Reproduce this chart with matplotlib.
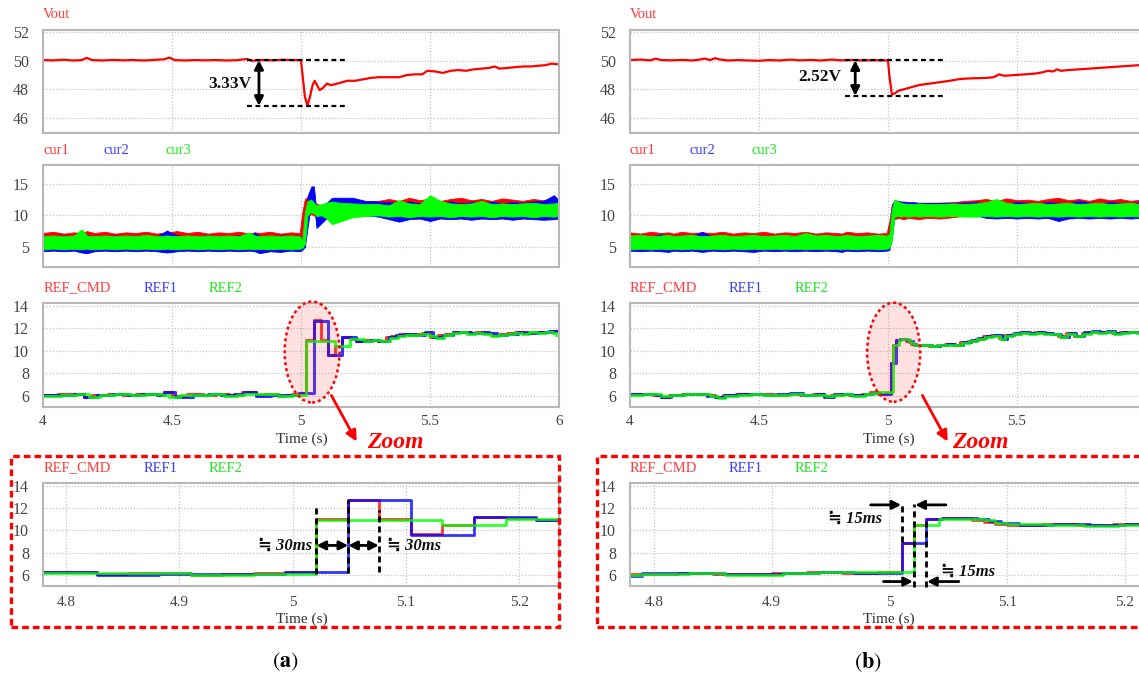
import matplotlib
matplotlib.use('Agg')
import matplotlib.pyplot as plt
from matplotlib.patches import Ellipse, Rectangle, FancyArrowPatch

W, H = 1139, 680
plt.rcParams['font.family'] = ['Liberation Serif', 'DejaVu Serif', 'DejaVu Sans']
plt.rcParams['mathtext.fontset'] = 'stix'

# ---------------- data ----------------
VOUT_A = [(4.00, 50.05), (4.04, 50.03), (4.08, 50.07), (4.12, 50.02), (4.15, 50.05), (4.17, 50.20),
          (4.19, 50.05), (4.23, 50.02), (4.27, 50.06), (4.31, 50.03), (4.35, 50.05), (4.39, 50.02),
          (4.43, 50.06), (4.47, 50.10), (4.49, 50.22), (4.51, 50.05), (4.55, 50.02), (4.59, 50.05),
          (4.63, 50.03), (4.67, 50.05), (4.71, 50.02), (4.75, 50.04), (4.79, 50.12), (4.81, 50.00),
          (4.85, 50.05), (4.89, 50.03), (4.93, 50.07), (4.97, 50.04), (5.00, 50.05), (5.003, 49.50),
          (5.015, 47.50), (5.025, 46.85), (5.035, 47.50), (5.045, 48.30), (5.053, 48.60), (5.062, 48.30),
          (5.072, 47.95), (5.085, 48.10), (5.10, 48.40), (5.115, 48.30), (5.13, 48.35), (5.15, 48.45),
          (5.18, 48.60), (5.21, 48.60), (5.24, 48.70), (5.27, 48.80), (5.30, 48.85), (5.34, 48.85),
          (5.38, 48.85), (5.41, 49.00), (5.44, 49.05), (5.47, 49.05), (5.49, 49.30), (5.52, 49.25),
          (5.55, 49.15), (5.58, 49.30), (5.61, 49.35), (5.64, 49.30), (5.67, 49.40), (5.70, 49.45),
          (5.73, 49.50), (5.75, 49.60), (5.77, 49.45), (5.80, 49.50), (5.83, 49.55), (5.86, 49.60),
          (5.89, 49.60), (5.92, 49.65), (5.95, 49.70), (5.97, 49.80), (6.00, 49.75)]

VOUT_B = [(4.00, 50.05), (4.04, 50.08), (4.08, 50.03), (4.10, 50.15), (4.12, 50.05), (4.16, 50.03),
          (4.20, 50.06), (4.24, 50.02), (4.27, 50.08), (4.29, 50.15), (4.31, 50.05), (4.33, 50.18),
          (4.35, 50.08), (4.38, 50.02), (4.42, 50.05), (4.46, 50.02), (4.50, 50.00), (4.54, 50.05),
          (4.58, 50.02), (4.62, 50.08), (4.66, 50.03), (4.70, 50.06), (4.74, 50.02), (4.78, 50.08),
          (4.82, 50.03), (4.86, 50.05), (4.90, 50.02), (4.94, 50.04), (4.98, 50.02), (5.00, 50.02),
          (5.005, 49.00), (5.015, 47.65), (5.025, 47.70), (5.04, 47.90), (5.06, 48.00), (5.09, 48.15),
          (5.12, 48.30), (5.16, 48.40), (5.20, 48.50), (5.24, 48.60), (5.27, 48.70), (5.30, 48.75),
          (5.34, 48.78), (5.38, 48.80), (5.41, 48.85), (5.43, 49.05), (5.45, 48.95), (5.49, 49.00),
          (5.53, 49.05), (5.57, 49.10), (5.60, 49.20), (5.62, 49.30), (5.64, 49.25), (5.655, 49.40),
          (5.67, 49.30), (5.70, 49.35), (5.74, 49.40), (5.78, 49.45), (5.82, 49.50), (5.86, 49.55),
          (5.90, 49.60), (5.94, 49.65), (5.98, 49.70), (6.00, 49.70)]

T_CUR = [4.00, 4.04, 4.08, 4.12, 4.15, 4.17, 4.20, 4.24, 4.28, 4.32, 4.36, 4.40, 4.44, 4.48,
         4.52, 4.56, 4.60, 4.64, 4.68, 4.72, 4.76, 4.80, 4.82, 4.84, 4.88, 4.92, 4.96, 4.995,
         5.005, 5.015, 5.025, 5.04, 5.05, 5.06, 5.08, 5.10, 5.12, 5.15, 5.20, 5.25, 5.30,
         5.34, 5.38, 5.42, 5.46, 5.50, 5.54, 5.58, 5.62, 5.66, 5.70, 5.74, 5.78, 5.82, 5.86,
         5.90, 5.94, 5.98, 6.00]

CUR1_HI_A = [7.2, 7.4, 7.1, 7.3, 7.2, 7.5, 7.2, 7.4, 7.1, 7.3, 7.2, 7.4, 7.1, 7.3, 7.5, 7.2, 7.4, 7.1, 7.3, 7.2,
             7.4, 7.1, 7.3, 7.2, 7.4, 7.1, 7.3, 7.2,
             10.5, 12.6, 12.9, 12.0, 11.6, 11.9, 11.5, 11.9, 12.2, 12.0, 12.1, 12.2, 12.3,
             12.6, 12.3, 12.8, 12.4, 12.7, 12.3, 12.6, 12.8, 12.4, 12.6, 12.3, 12.7, 12.5, 12.3, 12.6, 12.4, 12.8, 12.5]
CUR1_LO_A = [5.3, 5.2, 5.4, 5.3, 5.2, 5.3, 5.4, 5.2, 5.3, 5.3, 5.2, 5.4, 5.3, 5.2, 5.3, 5.4, 5.2, 5.3, 5.3, 5.2,
             5.4, 5.3, 5.2, 5.3, 5.4, 5.2, 5.3, 5.3,
             5.8, 9.6, 10.0, 10.2, 10.0, 9.8, 9.7, 9.8, 10.0, 10.1, 10.2, 10.2, 10.1,
             10.0, 10.1, 9.9, 10.0, 10.1, 9.9, 10.0, 10.1, 9.9, 10.0, 10.1, 9.9, 10.0, 10.1, 9.9, 10.0, 10.1, 10.0]
CUR2_HI_A = [6.7, 6.6, 6.8, 6.6, 6.7, 6.9, 6.6, 6.7, 6.8, 6.6, 6.7, 6.8, 6.6, 7.6, 6.8, 6.6, 6.7, 6.8, 6.6, 6.7,
             6.8, 6.6, 7.3, 6.7, 6.6, 6.8, 6.7, 6.8,
             5.5, 6.5, 13.0, 14.6, 14.6, 10.5, 11.5, 12.0, 12.8, 12.8, 12.8, 12.3, 12.2,
             12.1, 12.0, 12.2, 11.9, 12.1, 12.0, 12.2, 11.9, 12.1, 12.0, 12.2, 11.9, 12.1, 12.0, 12.2, 12.3, 13.2, 12.4]
CUR2_LO_A = [4.3, 4.4, 4.3, 4.4, 4.1, 4.0, 4.3, 4.4, 4.3, 4.4, 4.3, 4.4, 4.3, 4.1, 4.3, 4.4, 4.3, 4.4, 4.3, 4.4,
             4.3, 4.4, 4.3, 4.0, 4.3, 4.2, 4.4, 4.3,
             4.5, 5.0, 8.0, 12.0, 12.0, 8.0, 8.8, 9.6, 10.2, 10.5, 10.3, 10.0, 9.8,
             9.4, 9.0, 9.4, 9.5, 9.1, 9.5, 9.4, 9.5, 9.3, 9.5, 9.4, 9.5, 9.3, 9.5, 9.4, 9.3, 9.4, 9.5]
CUR3_HI_A = [6.7, 6.8, 6.7, 6.8, 7.8, 6.8, 6.7, 6.8, 6.7, 6.8, 6.7, 6.9, 6.7, 6.8, 6.7, 6.8, 6.7, 6.8, 6.7, 6.8,
             6.7, 7.3, 6.8, 6.7, 6.8, 6.7, 6.8, 6.7,
             6.0, 10.5, 12.3, 12.5, 12.0, 11.6, 11.8, 12.0, 12.2, 12.0, 11.9, 11.8, 11.8,
             11.6, 12.4, 11.9, 11.8, 13.2, 12.3, 11.9, 11.8, 11.9, 12.3, 11.8, 11.9, 11.8, 11.9, 12.0, 11.8, 11.9, 12.0]
CUR3_LO_A = [4.6, 4.7, 4.6, 4.7, 4.6, 4.7, 4.6, 4.7, 4.6, 4.7, 4.6, 4.7, 4.6, 4.7, 4.6, 4.7, 4.6, 4.7, 4.6, 4.7,
             4.6, 4.7, 4.6, 4.7, 4.6, 4.7, 4.6, 4.7,
             4.8, 5.5, 10.0, 10.5, 10.3, 9.9, 10.0, 9.5, 8.6, 9.0, 9.7, 9.9, 10.0,
             9.8, 9.9, 9.7, 9.9, 9.8, 9.9, 9.7, 9.9, 9.8, 9.9, 9.7, 9.9, 9.8, 9.9, 9.7, 9.9, 9.8, 9.9]

CUR1_HI_B = [7.3, 7.1, 7.4, 7.2, 7.3, 7.1, 7.4, 7.2, 7.3, 7.2, 7.4, 7.1, 7.3, 7.2, 7.4, 7.1, 7.3, 7.2, 7.4, 7.1,
             7.3, 7.2, 7.1, 7.4, 7.2, 7.3, 7.1, 7.2,
             9.0, 11.8, 12.2, 12.0, 11.8, 11.9, 11.8, 11.9, 12.0, 11.9, 12.0, 12.1, 12.3,
             12.4, 12.6, 12.3, 12.7, 12.4, 12.5, 12.3, 12.6, 12.8, 12.4, 12.6, 12.3, 12.7, 12.4, 12.6, 12.3, 12.5, 12.4]
CUR1_LO_B = [5.3, 5.2, 5.4, 5.3, 5.2, 5.3, 5.4, 5.2, 5.3, 5.3, 5.2, 5.4, 5.3, 5.2, 5.3, 5.4, 5.2, 5.3, 5.3, 5.2,
             5.4, 5.3, 5.2, 5.3, 5.4, 5.2, 5.3, 5.3,
             5.8, 9.5, 9.4, 9.6, 9.5, 9.4, 9.6, 9.5, 9.4, 9.6, 9.5, 9.7, 10.0,
             10.1, 10.0, 10.2, 10.1, 10.0, 10.2, 10.1, 10.0, 10.2, 10.1, 10.0, 10.2, 10.1, 10.0, 10.2, 10.1, 10.0, 10.1]
CUR2_HI_B = [6.7, 6.8, 6.6, 7.0, 6.7, 6.6, 6.8, 6.7, 7.4, 6.6, 6.8, 6.6, 6.7, 6.8, 6.6, 6.7, 6.8, 6.6, 6.7, 6.8,
             6.6, 6.7, 6.8, 6.6, 6.7, 6.8, 6.6, 6.8,
             7.0, 11.5, 12.4, 12.3, 12.2, 12.2, 12.1, 12.1, 12.0, 12.0, 12.0, 12.0, 12.0,
             12.1, 11.9, 12.0, 11.9, 12.1, 12.0, 11.9, 12.1, 12.0, 11.9, 12.3, 12.0, 11.9, 12.1, 12.0, 11.9, 12.1, 12.0]
CUR2_LO_B = [4.4, 4.3, 4.4, 4.3, 4.2, 4.4, 4.3, 4.4, 4.2, 4.4, 4.3, 4.4, 4.3, 4.2, 4.4, 4.3, 4.4, 4.3, 4.4, 4.3,
             4.4, 4.3, 4.2, 4.4, 4.3, 4.4, 4.3, 4.4,
             4.5, 6.5, 9.8, 10.0, 10.1, 10.0, 10.1, 10.2, 10.1, 10.2, 10.2, 10.1, 10.2,
             10.0, 9.6, 9.5, 9.6, 9.5, 9.6, 9.5, 9.6, 9.1, 9.5, 9.6, 9.5, 9.6, 9.5, 9.6, 9.5, 9.6, 9.5]
CUR3_HI_B = [6.8, 6.9, 6.7, 6.8, 6.9, 6.7, 6.8, 6.9, 6.7, 6.8, 6.9, 6.7, 6.8, 6.9, 6.7, 6.8, 6.9, 6.7, 7.2, 6.8,
             6.9, 6.7, 6.8, 6.9, 6.7, 6.8, 6.9, 6.8,
             7.0, 11.0, 12.5, 12.2, 12.0, 11.9, 11.8, 11.8, 11.9, 11.8, 11.8, 11.9, 11.8,
             11.9, 12.1, 12.6, 12.0, 11.8, 11.9, 12.0, 11.8, 11.9, 12.0, 11.8, 11.9, 12.0, 11.8, 11.9, 12.0, 11.8, 11.9]
CUR3_LO_B = [4.6, 4.7, 4.6, 4.7, 4.6, 4.7, 4.6, 4.7, 4.6, 4.7, 4.6, 4.7, 4.6, 4.7, 4.6, 4.7, 4.6, 4.7, 4.6, 4.7,
             4.6, 4.7, 4.6, 4.7, 4.6, 4.7, 4.6, 4.7,
             4.8, 6.0, 9.8, 9.9, 9.8, 9.9, 9.8, 9.9, 9.8, 9.9, 9.8, 9.9, 9.8,
             9.8, 9.9, 9.8, 9.9, 9.8, 9.9, 9.8, 9.9, 9.8, 9.9, 9.8, 9.9, 9.8, 9.9, 9.8, 9.9, 9.8, 9.9]

REF_CMD_A = [(4.00, 6.10), (4.06, 6.15), (4.11, 6.20), (4.16, 5.90), (4.19, 6.10), (4.25, 6.20), (4.31, 6.10),
             (4.36, 6.20), (4.42, 6.15), (4.47, 6.30), (4.50, 5.95), (4.56, 6.15), (4.62, 6.10), (4.67, 6.20),
             (4.72, 6.05), (4.77, 6.30), (4.827, 6.10), (4.855, 6.15), (4.910, 6.00), (4.938, 6.05),
             (4.966, 6.15), (4.993, 6.25), (5.021, 11.00), (5.049, 12.75), (5.076, 11.00), (5.104, 9.65),
             (5.132, 10.45), (5.160, 11.25), (5.188, 11.10), (5.215, 10.90), (5.243, 10.95), (5.270, 11.00),
             (5.300, 10.90), (5.330, 11.20), (5.350, 11.35), (5.380, 11.50), (5.410, 11.45), (5.440, 11.55),
             (5.470, 11.60), (5.500, 11.25), (5.530, 11.40), (5.560, 11.55), (5.590, 11.70), (5.620, 11.65),
             (5.650, 11.60), (5.680, 11.65), (5.710, 11.60), (5.740, 11.40), (5.770, 11.50), (5.800, 11.60),
             (5.830, 11.65), (5.860, 11.60), (5.890, 11.70), (5.920, 11.65), (5.950, 11.70), (5.980, 11.75),
             (6.00, 11.75)]
REF1_A = [(4.00, 6.05), (4.06, 6.10), (4.12, 6.20), (4.16, 5.85), (4.21, 6.10), (4.27, 6.15), (4.33, 6.10),
          (4.38, 6.20), (4.44, 6.10), (4.47, 6.35), (4.51, 5.90), (4.58, 6.10), (4.64, 6.20), (4.69, 6.10),
          (4.74, 6.15), (4.78, 6.30), (4.827, 6.00), (4.882, 6.10), (4.938, 6.05), (4.993, 6.25),
          (5.049, 12.70), (5.104, 9.60), (5.160, 11.25), (5.215, 10.90), (5.270, 11.00), (5.300, 10.85),
          (5.340, 11.20), (5.370, 11.40), (5.400, 11.50), (5.440, 11.45), (5.480, 11.65), (5.510, 11.20),
          (5.550, 11.45), (5.590, 11.65), (5.630, 11.70), (5.660, 11.60), (5.700, 11.65), (5.730, 11.60),
          (5.760, 11.40), (5.800, 11.55), (5.840, 11.65), (5.880, 11.60), (5.920, 11.70), (5.960, 11.75),
          (5.990, 11.80), (6.00, 11.80)]
REF2_A = [(4.00, 6.00), (4.07, 6.10), (4.13, 6.15), (4.18, 5.90), (4.22, 6.05), (4.28, 6.15), (4.34, 6.05),
          (4.40, 6.15), (4.46, 6.10), (4.49, 5.85), (4.53, 6.05), (4.59, 6.10), (4.65, 6.15), (4.70, 6.00),
          (4.75, 6.10), (4.78, 6.20), (4.827, 6.15), (4.910, 5.95), (4.966, 6.10), (5.021, 10.90),
          (5.132, 10.45), (5.188, 11.05), (5.243, 10.90), (5.280, 10.95), (5.310, 10.85), (5.345, 11.15),
          (5.375, 11.35), (5.405, 11.45), (5.435, 11.40), (5.465, 11.55), (5.495, 11.30), (5.525, 11.15),
          (5.555, 11.45), (5.585, 11.60), (5.615, 11.65), (5.645, 11.55), (5.675, 11.60), (5.705, 11.55),
          (5.735, 11.35), (5.765, 11.45), (5.795, 11.55), (5.825, 11.60), (5.855, 11.55), (5.885, 11.65),
          (5.915, 11.60), (5.945, 11.65), (5.975, 11.60), (5.990, 11.40), (6.00, 11.40)]

REF_CMD_B = [(4.00, 6.15), (4.05, 6.20), (4.09, 6.10), (4.12, 5.90), (4.15, 6.10), (4.20, 6.15), (4.25, 6.20),
             (4.30, 6.05), (4.33, 5.85), (4.36, 6.05), (4.41, 6.15), (4.46, 6.20), (4.51, 6.15), (4.56, 6.10),
             (4.61, 6.20), (4.66, 6.10), (4.71, 6.15), (4.75, 5.95), (4.78, 6.10), (4.82, 6.20), (4.85, 6.05),
             (4.90, 6.20), (4.93, 6.30), (4.96, 6.20), (4.99, 6.25), (5.011, 8.90), (5.021, 10.50),
             (5.031, 11.00), (5.045, 11.10), (5.070, 10.90), (5.080, 10.75), (5.090, 10.60), (5.100, 10.50),
             (5.130, 10.55), (5.160, 10.45), (5.190, 10.55), (5.220, 10.60), (5.250, 10.55), (5.280, 10.75),
             (5.310, 10.90), (5.340, 11.10), (5.370, 11.30), (5.400, 11.40), (5.430, 11.15), (5.450, 11.40),
             (5.480, 11.55), (5.510, 11.65), (5.540, 11.60), (5.570, 11.65), (5.600, 11.60), (5.630, 11.55),
             (5.660, 11.30), (5.690, 11.60), (5.720, 11.35), (5.750, 11.60), (5.780, 11.70), (5.810, 11.65),
             (5.840, 11.70), (5.870, 11.60), (5.900, 11.65), (5.930, 11.70), (5.960, 11.65), (6.00, 11.65)]
REF1_B = [(4.00, 6.20), (4.05, 6.15), (4.10, 6.05), (4.12, 5.85), (4.16, 6.10), (4.21, 6.20), (4.26, 6.15),
          (4.30, 6.00), (4.33, 5.85), (4.37, 6.10), (4.42, 6.20), (4.47, 6.15), (4.52, 6.10), (4.57, 6.15),
          (4.62, 6.25), (4.67, 6.10), (4.72, 6.15), (4.75, 5.90), (4.79, 6.15), (4.83, 6.20), (4.86, 6.05),
          (4.91, 6.15), (4.94, 6.25), (4.97, 6.15), (4.99, 6.20), (5.011, 8.90), (5.031, 11.00),
          (5.045, 11.10), (5.075, 11.00), (5.085, 10.85), (5.095, 10.65), (5.110, 10.50), (5.140, 10.55),
          (5.170, 10.45), (5.200, 10.55), (5.230, 10.60), (5.260, 10.55), (5.290, 10.80), (5.320, 10.95),
          (5.350, 11.15), (5.380, 11.35), (5.410, 11.40), (5.440, 11.10), (5.460, 11.45), (5.490, 11.60),
          (5.520, 11.65), (5.550, 11.60), (5.580, 11.70), (5.610, 11.60), (5.640, 11.50), (5.670, 11.25),
          (5.700, 11.60), (5.730, 11.30), (5.760, 11.65), (5.790, 11.75), (5.820, 11.65), (5.850, 11.75),
          (5.880, 11.60), (5.910, 11.70), (5.940, 11.65), (5.970, 11.70), (6.00, 11.65)]
REF2_B = [(4.00, 6.10), (4.05, 6.20), (4.09, 6.15), (4.12, 5.95), (4.16, 6.05), (4.21, 6.15), (4.26, 6.20),
          (4.31, 6.00), (4.34, 5.80), (4.37, 6.00), (4.42, 6.10), (4.47, 6.20), (4.52, 6.10), (4.57, 6.05),
          (4.62, 6.15), (4.67, 6.05), (4.72, 6.10), (4.76, 5.95), (4.79, 6.05), (4.83, 6.15), (4.86, 6.00),
          (4.91, 6.15), (4.94, 6.25), (4.96, 6.30), (5.021, 10.50), (5.042, 11.00), (5.050, 11.05),
          (5.080, 10.90), (5.090, 10.70), (5.100, 10.55), (5.135, 10.50), (5.165, 10.40), (5.195, 10.50),
          (5.225, 10.55), (5.255, 10.50), (5.285, 10.70), (5.315, 10.85), (5.345, 11.05), (5.375, 11.25),
          (5.405, 11.35), (5.435, 11.10), (5.455, 11.35), (5.485, 11.50), (5.515, 11.60), (5.545, 11.55),
          (5.575, 11.60), (5.605, 11.55), (5.635, 11.50), (5.665, 11.25), (5.695, 11.55), (5.725, 11.30),
          (5.755, 11.55), (5.785, 11.65), (5.815, 11.60), (5.845, 11.65), (5.875, 11.55), (5.905, 11.60),
          (5.935, 11.65), (5.965, 11.60), (6.00, 11.60)]

X_TICKS_FULL = [4, 4.5, 5, 5.5, 6]
X_LABELS_FULL = ['4', '4.5', '5', '5.5', '6']
X_TICKS_ZOOM = [4.8, 4.9, 5.0, 5.1, 5.2]
X_LABELS_ZOOM = ['4.8', '4.9', '5', '5.1', '5.2']
Y_TICKS_VOUT = [46, 48, 50, 52]
Y_TICKS_CUR = [5, 10, 15]
Y_TICKS_REF = [6, 8, 10, 12, 14]

RED, BLUE, GREEN = '#ff0000', '#0000ff', '#00ff00'
TXT_RED, TXT_BLUE, TXT_GREEN = '#ff3b3b', '#3b3bff', '#1ee81e'

# ---------------- helpers ----------------
fig = plt.figure(figsize=(W / 100, H / 100), dpi=100)


def box(x0, y0, x1, y1):
    return [x0 / W, 1 - y1 / H, (x1 - x0) / W, (y1 - y0) / H]


def fp(x, y):
    return (x / W, 1 - y / H)


def style(ax, xlim, ylim, yticks, xticks, xlabels=None, xpad=6):
    ax.set_xlim(xlim)
    ax.set_ylim(ylim)
    ax.set_yticks(yticks)
    ax.set_xticks(xticks)
    ax.grid(True, ls=(0, (1, 1.5)), color='#c4c4c4', lw=0.9)
    ax.set_axisbelow(True)
    for s in ax.spines.values():
        s.set_color('#b8b8b8')
        s.set_linewidth(1.5)
    ax.tick_params(axis='y', length=0, labelsize=11.5, labelcolor='#444444', pad=10)
    ax.tick_params(axis='x', length=0, labelsize=11, labelcolor='#444444', pad=xpad)
    if xlabels is None:
        ax.tick_params(axis='x', labelbottom=False)
    else:
        ax.set_xticklabels(xlabels)


def unzip(pairs):
    return [p[0] for p in pairs], [p[1] for p in pairs]


def label(x, y, s, c, size=10.5):
    fig.text(*fp(x, y), s, color=c, fontsize=size, ha='left', va='center')


ANN_FONT = ['Liberation Serif', 'DejaVu Sans']

columns = [
    dict(x0=43, x1=559, vout=VOUT_A, cur=(CUR1_HI_A, CUR1_LO_A, CUR2_HI_A, CUR2_LO_A, CUR3_HI_A, CUR3_LO_A),
         refs=(REF_CMD_A, REF1_A, REF2_A), zxlim=(4.7797, 5.235), tag='a', cap_x=285,
         leg=(44, 104, 165), leg2=(44, 144, 209), drop=(50.05, 46.85, 4.79, 5.18, 4.837, '3.33V', 4.725, 48.4),
         ell=(5.043, 9.9, 0.213, 9.0), arrow=((330, 393), (358, 444)), zoom_x=367, time_x=302,
         box=(11, 456, 559, 627)),
    dict(x0=630, x1=1146, vout=VOUT_B, cur=(CUR1_HI_B, CUR1_LO_B, CUR2_HI_B, CUR2_LO_B, CUR3_HI_B, CUR3_LO_B),
         refs=(REF_CMD_B, REF1_B, REF2_B), zxlim=(4.7796, 5.218), tag='b', cap_x=868,
         leg=(630, 690, 751), leg2=(630, 729, 795), drop=(50.03, 47.55, 4.835, 5.215, 4.873, '2.52V', 4.735, 48.85),
         ell=(5.022, 9.88, 0.206, 8.84), arrow=((921, 393), (949, 444)), zoom_x=952, time_x=889,
         box=(597, 456, 1150, 627)),
]

for col in columns:
    x0, x1 = col['x0'], col['x1']

    # ---- Vout ----
    ax = fig.add_axes(box(x0, 30, x1, 133))
    t, v = unzip(col['vout'])
    ax.plot(t, v, color=RED, lw=1.6)
    style(ax, (4, 6), (44.95, 52.15), Y_TICKS_VOUT, X_TICKS_FULL)
    ytop, ybot, xa, xb, xarr, txt, tx, ty = col['drop']
    ax.hlines([ytop, ybot], xa, xb, colors='black', linestyles=(0, (2.2, 1.6)), lw=1.6)
    ax.annotate('', xy=(xarr, ybot), xytext=(xarr, ytop),
                arrowprops=dict(arrowstyle='<|-|>', color='black', lw=2, mutation_scale=13,
                                shrinkA=0, shrinkB=0))
    ax.text(tx, ty, txt, ha='center', va='center', fontsize=12.5, fontweight='bold', color='#111111')
    label(x0, 15, 'Vout', TXT_RED)

    # ---- currents ----
    ax = fig.add_axes(box(x0, 165, x1, 267))
    c1h, c1l, c2h, c2l, c3h, c3l = col['cur']
    ax.fill_between(T_CUR, c1l, c1h, color=RED, lw=0.6)
    ax.fill_between(T_CUR, c2l, c2h, color=BLUE, lw=0.6)
    ax.fill_between(T_CUR, c3l, c3h, color=GREEN, lw=0.6)
    style(ax, (4, 6), (1.8, 18.0), Y_TICKS_CUR, X_TICKS_FULL)
    for xx, s, c in zip(col['leg'], ['cur1', 'cur2', 'cur3'], [TXT_RED, TXT_BLUE, TXT_GREEN]):
        label(xx, 150, s, c)

    # ---- references full ----
    ax = fig.add_axes(box(x0, 303, x1, 407))
    for ser, c in zip(col['refs'], [RED, BLUE, GREEN]):
        t, v = unzip(ser)
        ax.step(t, v, where='post', color=c, lw=2.2, alpha=0.8)
    style(ax, (4, 6), (5.0, 14.27), Y_TICKS_REF, X_TICKS_FULL, X_LABELS_FULL, xpad=6)
    cx, cy, ew, eh = col['ell']
    ax.add_patch(Ellipse((cx, cy), ew, eh, facecolor=(1, 0.3, 0.3, 0.17), edgecolor='red',
                         ls=(0, (1.2, 1.2)), lw=1.8, clip_on=False, zorder=5))
    for xx, s, c in zip(col['leg2'], ['REF_CMD', 'REF1', 'REF2'], [TXT_RED, TXT_BLUE, TXT_GREEN]):
        label(xx, 288, s, c)
    fig.text(*fp(col['time_x'], 439), 'Time (s)', ha='center', va='center', fontsize=11, color='#333333')
    fig.add_artist(FancyArrowPatch(fp(*col['arrow'][0]), fp(*col['arrow'][1]),
                                   transform=fig.transFigure, arrowstyle='-|>',
                                   mutation_scale=16, color='red', lw=2))
    fig.text(*fp(col['zoom_x'], 443), 'Zoom', ha='left', va='center', fontsize=17,
             fontweight='bold', fontstyle='italic', color='red')

    # ---- zoom panel ----
    bx0, by0, bx1, by1 = col['box']
    fig.add_artist(Rectangle(fp(bx0, by1), (bx1 - bx0) / W, (by1 - by0) / H, transform=fig.transFigure,
                             fill=False, edgecolor='red', ls=(0, (2.0, 1.2)), lw=2.4))
    ax = fig.add_axes(box(x0, 483, x1, 586))
    for ser, c in zip(col['refs'], [RED, BLUE, GREEN]):
        t, v = unzip(ser)
        ax.step(t, v, where='post', color=c, lw=2.0, alpha=0.8)
    style(ax, col['zxlim'], (5.0, 14.27), Y_TICKS_REF, X_TICKS_ZOOM, X_LABELS_ZOOM, xpad=7)
    for xx, s, c in zip(col['leg2'], ['REF_CMD', 'REF1', 'REF2'], [TXT_RED, TXT_BLUE, TXT_GREEN]):
        label(xx, 468, s, c)
    fig.text(*fp(col['time_x'], 619), 'Time (s)', ha='center', va='center', fontsize=11, color='#333333')

    dash = (0, (2.2, 1.4))
    arr = dict(arrowstyle='-|>', color='black', lw=2, mutation_scale=13, shrinkA=0, shrinkB=0)
    darr = dict(arrowstyle='<|-|>', color='black', lw=2, mutation_scale=13, shrinkA=0, shrinkB=0)
    if col['tag'] == 'a':
        ax.vlines(5.021, 6.1, 12.15, colors='black', linestyles=dash, lw=2, zorder=6)
        ax.vlines(5.049, 6.2, 12.75, colors='black', linestyles=dash, lw=2, zorder=6)
        ax.vlines(5.076, 6.25, 11.85, colors='black', linestyles=dash, lw=2, zorder=6)
        ax.annotate('', xy=(5.049, 8.65), xytext=(5.021, 8.65), arrowprops=darr)
        ax.annotate('', xy=(5.076, 8.65), xytext=(5.049, 8.65), arrowprops=darr)
        ax.text(5.017, 8.65, '\u2252 30ms', ha='right', va='center', fontsize=12, fontweight='bold',
                fontstyle='italic', family=ANN_FONT, color='#111111')
        ax.text(5.083, 8.65, '\u2252 30ms', ha='left', va='center', fontsize=12, fontweight='bold',
                fontstyle='italic', family=ANN_FONT, color='#111111')
    else:
        ax.vlines(5.011, 8.95, 12.4, colors='black', linestyles=dash, lw=2, zorder=6)
        ax.vlines(5.021, 4.9, 12.4, colors='black', linestyles=dash, lw=2, zorder=6, clip_on=False)
        ax.vlines(5.031, 4.9, 10.75, colors='black', linestyles=dash, lw=2, zorder=6, clip_on=False)
        ax.annotate('', xy=(5.010, 12.3), xytext=(4.984, 12.3), arrowprops=arr)
        ax.annotate('', xy=(5.022, 12.3), xytext=(5.048, 12.3), arrowprops=arr)
        ax.annotate('', xy=(5.020, 5.4), xytext=(4.995, 5.4), arrowprops=arr, annotation_clip=False)
        ax.annotate('', xy=(5.032, 5.4), xytext=(5.059, 5.4), arrowprops=arr, annotation_clip=False)
        ax.text(4.971, 11.05, '\u2252 15ms', ha='center', va='center', fontsize=12, fontweight='bold',
                fontstyle='italic', family=ANN_FONT, color='#111111')
        ax.text(5.044, 6.3, '\u2252 15ms', ha='left', va='center', fontsize=12, fontweight='bold',
                fontstyle='italic', family=ANN_FONT, color='#111111')

    fig.text(*fp(col['cap_x'], 662), r'$(\mathbf{%s})$' % col['tag'], ha='center', va='center',
             fontsize=16, color='black')

fig.savefig('out.png', dpi=100)
